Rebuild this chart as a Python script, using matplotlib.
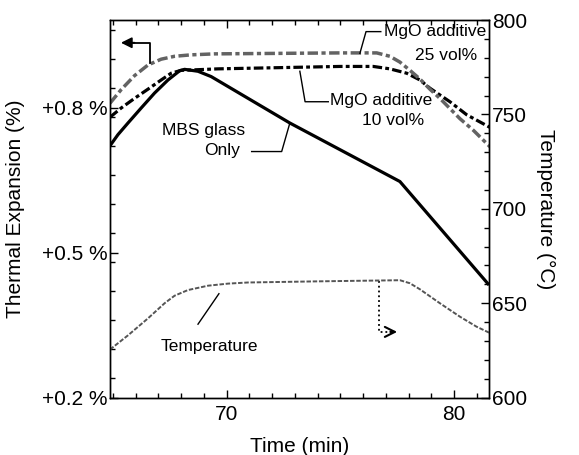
import matplotlib
matplotlib.use("Agg")
import matplotlib.pyplot as plt
from matplotlib.ticker import FixedLocator, MultipleLocator

plt.rcParams['font.family'] = ['Liberation Sans', 'DejaVu Sans']

# thermal expansion (%) vs time (min)
mbs_t = [64.87, 65.22, 65.66, 66.24, 66.83, 67.42, 67.93, 68.15, 68.74, 69.32,
         72.78, 77.62, 81.54]
mbs_v = [0.721, 0.744, 0.768, 0.799, 0.830, 0.857, 0.876, 0.879, 0.875, 0.864,
         0.768, 0.647, 0.433]

mgo10_t = [64.87, 65.36, 65.95, 66.54, 67.12, 67.56, 68.0, 68.59, 69.62, 74.98,
           76.45, 77.18, 77.92, 78.50, 78.94, 79.38, 79.82, 80.56, 81.58]
mgo10_v = [0.780, 0.799, 0.819, 0.838, 0.857, 0.871, 0.877, 0.878, 0.880, 0.885,
           0.885, 0.880, 0.871, 0.857, 0.840, 0.826, 0.812, 0.785, 0.759]

mgo25_t = [64.87, 65.36, 65.95, 66.54, 67.12, 67.71, 68.44, 69.47, 74.98, 76.60,
           77.18, 77.62, 78.06, 78.50, 78.94, 79.38, 79.82, 80.26, 80.85, 81.58]
mgo25_v = [0.809, 0.837, 0.866, 0.888, 0.900, 0.906, 0.909, 0.911, 0.913, 0.913,
           0.906, 0.894, 0.877, 0.859, 0.838, 0.819, 0.798, 0.777, 0.753, 0.719]

# furnace temperature (°C)
temp_t = [64.87, 65.66, 66.54, 67.27, 67.71, 68.30, 69.18, 70.06, 70.94, 74.0,
          77.62, 78.06, 78.50, 79.38, 80.26, 80.99, 81.55]
temp_v = [625.5, 633.0, 642.0, 650.0, 654.0, 657.0, 659.3, 660.4, 661.0, 661.6,
          662.2, 660.6, 657.4, 650.0, 642.9, 637.6, 634.4]

exp_ticks = [0.2, 0.5, 0.8]
exp_labels = ["+0.2 %", "+0.5 %", "+0.8 %"]
temp_ticks = [600, 650, 700, 750, 800]
time_ticks = [70, 80]

fig = plt.figure(figsize=(5.79, 4.55), dpi=100)
ax = fig.add_axes([0.19, 0.126, 0.6546, 0.83])
ax2 = ax.twinx()

ax.plot(mbs_t, mbs_v, color='black', lw=2.3, solid_capstyle='butt')
ax.plot(mgo10_t, mgo10_v, color='black', lw=2.3, dashes=(3, 1, 1.2, 1))
ax.plot(mgo25_t, mgo25_v, color='#636363', lw=2.5, dashes=(3, 1, 1.2, 1))
ax2.plot(temp_t, temp_v, color='#555555', lw=1.4, dashes=(2.3, 0.9))

ax.set_xlim(64.87, 81.54)
ax.set_ylim(0.2, 0.981)
ax2.set_ylim(600, 800)

ax.xaxis.set_major_locator(FixedLocator(time_ticks))
ax.xaxis.set_minor_locator(MultipleLocator(1))
ax.yaxis.set_major_locator(FixedLocator(exp_ticks))
ax.set_yticklabels(exp_labels)
ax.yaxis.set_minor_locator(MultipleLocator(0.06))
ax2.yaxis.set_major_locator(FixedLocator(temp_ticks))
ax2.yaxis.set_minor_locator(MultipleLocator(10))

ax.tick_params(axis='x', which='both', direction='in', top=True, labelsize=15, pad=5)
ax.tick_params(axis='y', which='both', direction='in', right=False, labelsize=15, pad=2)
ax.tick_params(which='major', length=6, width=1)
ax.tick_params(which='minor', length=3.5, width=1)
ax2.tick_params(axis='y', which='both', direction='in', labelsize=15, pad=2)
ax2.tick_params(which='major', length=6, width=1)
ax2.tick_params(which='minor', length=3.5, width=1)

for a in (ax, ax2):
    for s in a.spines.values():
        s.set_linewidth(1)

ax.set_xlabel("Time (min)", fontsize=15)
ax.set_ylabel("Thermal Expansion (%)", fontsize=15)
ax2.set_ylabel("Temperature (\u00b0C)", fontsize=15, rotation=270)
ax.xaxis.set_label_coords(0.499, -0.104)
ax.yaxis.set_label_coords(-0.224, 0.5)
ax2.yaxis.set_label_coords(1.174, 0.5)

# annotations
fs = 12.5
ax.text(76.9, 0.957, "MgO additive", fontsize=fs, ha='left', va='center')
ax.text(78.3, 0.908, "25 vol%", fontsize=fs, ha='left', va='center')
ax.plot([76.78, 76.13, 75.86], [0.957, 0.957, 0.912], color='black', lw=1)

ax.text(74.55, 0.814, "MgO additive", fontsize=fs, ha='left', va='center')
ax.text(75.96, 0.773, "10 vol%", fontsize=fs, ha='left', va='center')
ax.plot([74.47, 73.45, 73.22], [0.812, 0.812, 0.875], color='black', lw=1)

ax.text(68.97, 0.752, "MBS glass", fontsize=fs, ha='center', va='center')
ax.text(69.8, 0.711, "Only", fontsize=fs, ha='center', va='center')
ax.plot([71.10, 72.42, 72.78], [0.709, 0.709, 0.768], color='black', lw=1)

ax.text(69.23, 0.305, "Temperature", fontsize=fs, ha='center', va='center')
ax.plot([68.74, 69.66], [0.352, 0.415], color='black', lw=1)

# axis pointers
ax.plot([66.63, 66.63, 65.9], [0.893, 0.934, 0.934], color='black', lw=1.3)
ax.annotate("", xy=(65.35, 0.934), xytext=(65.95, 0.934),
            arrowprops=dict(arrowstyle='-|>', color='black', lw=1.3,
                            mutation_scale=16, shrinkA=0, shrinkB=0))

ax.plot([76.70, 76.70, 77.3], [0.442, 0.336, 0.336], color='black', lw=1.3, ls=':')
ax.annotate("", xy=(77.5, 0.336), xytext=(77.2, 0.336),
            arrowprops=dict(arrowstyle='->', color='black', lw=1.5,
                            mutation_scale=18, shrinkA=0, shrinkB=0))

fig.savefig("out.png", dpi=100)
